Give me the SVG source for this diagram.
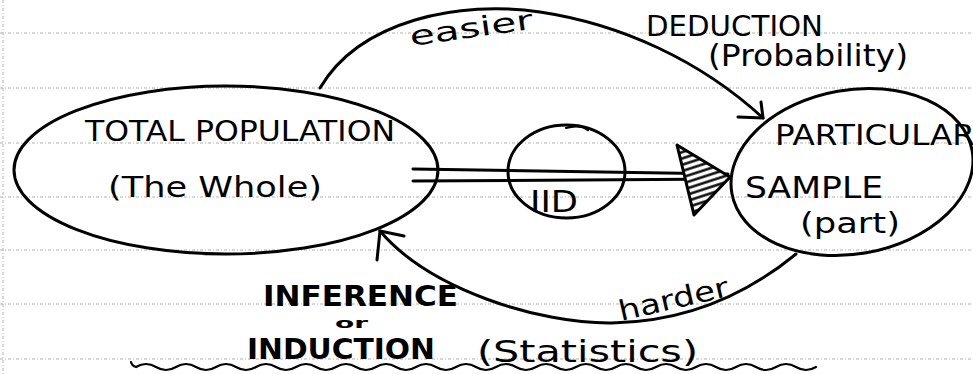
<svg xmlns="http://www.w3.org/2000/svg" width="973" height="374" viewBox="0 0 973 374">
  <defs>
    <style>
      .paper { stroke: #b0b0b0; stroke-width: 1; stroke-dasharray: 3 2 1 2; fill: none; }
      .ink { stroke: #000; stroke-width: 3; fill: none; stroke-linecap: round; stroke-linejoin: round; }
      .thin { stroke: #000; stroke-width: 2.2; fill: none; stroke-linecap: round; }
      .t { font-family: "DejaVu Sans", "Liberation Sans", sans-serif; fill: #000; }
      .caps { font-size: 28px; }
      .bold { font-weight: bold; }
    </style>
    <pattern id="hatch" patternUnits="userSpaceOnUse" width="6" height="6" patternTransform="rotate(-18)">
      <rect width="6" height="6" fill="#fff"/>
      <line x1="0" y1="1.5" x2="6" y2="1.5" stroke="#000" stroke-width="2.4"/>
    </pattern>
  </defs>
  <rect width="973" height="374" fill="#fff"/>
  <g id="paper">
    <line class="paper" x1="0" y1="33" x2="973" y2="33"/>
    <line class="paper" x1="0" y1="88" x2="973" y2="88"/>
    <line class="paper" x1="0" y1="143" x2="973" y2="143"/>
    <line class="paper" x1="0" y1="197" x2="973" y2="197"/>
    <line class="paper" x1="0" y1="250" x2="973" y2="250"/>
    <line class="paper" x1="0" y1="304" x2="973" y2="304"/>
    <line class="paper" x1="0" y1="359" x2="973" y2="359"/>
    <line class="paper" x1="3" y1="0" x2="3" y2="374" stroke-width="2"/>
  </g>

  <g id="node-population">
    <ellipse class="ink" cx="226" cy="170" rx="212" ry="84"/>
    <text class="t caps" x="85" y="141" textLength="310" lengthAdjust="spacingAndGlyphs">TOTAL POPULATION</text>
    <text class="t" x="108" y="197" font-size="28" textLength="214" lengthAdjust="spacingAndGlyphs">(The Whole)</text>
  </g>

  <g id="node-sample">
    <ellipse class="ink" cx="852" cy="172" rx="122" ry="82" transform="rotate(-10 852 172)"/>
    <text class="t caps" x="775" y="145" textLength="200" lengthAdjust="spacingAndGlyphs">PARTICULAR</text>
    <text class="t" x="745" y="198" font-size="30" textLength="138" lengthAdjust="spacingAndGlyphs">SAMPLE</text>
    <text class="t" x="800" y="233" font-size="28" textLength="100" lengthAdjust="spacingAndGlyphs">(part)</text>
  </g>

  <g id="node-iid">
    <ellipse class="ink" cx="566.5" cy="171.5" rx="58.5" ry="46.5"/>
    <path class="thin" d="M566,128 Q580,124 588,130"/>
    <text class="t" x="530" y="212" font-size="30" textLength="48" lengthAdjust="spacingAndGlyphs">IID</text>
  </g>

  <g id="connectors">
    <!-- deduction: population to sample -->
    <path class="ink" d="M320,88 C360,20 460,0 540,12 C620,24 700,60 763,118"/>
    <path class="ink" d="M761,102 L763,118 L738,117"/>
    <!-- inference: sample to population -->
    <path class="ink" d="M796,254 C740,300 680,322 612,323 C540,324 430,290 380,231"/>
    <path class="ink" d="M404,236 L380,231 L377,260"/>
    <!-- iid double arrow -->
    <line class="ink" x1="413" y1="169" x2="728" y2="174" stroke-width="2.6"/>
    <line class="ink" x1="413" y1="181" x2="728" y2="179" stroke-width="2.6"/>
    <polygon points="677,145 730,177 694,215" fill="url(#hatch)" stroke="#000" stroke-width="3" stroke-linejoin="round"/>
  </g>

  <g id="labels">
    <text class="t" x="411" y="46" font-size="27" textLength="124" lengthAdjust="spacingAndGlyphs" transform="rotate(-8 411 46)">easier</text>
    <text class="t" x="646" y="36" font-size="29" textLength="177" lengthAdjust="spacingAndGlyphs">DEDUCTION</text>
    <text class="t" x="708" y="66" font-size="30" textLength="200" lengthAdjust="spacingAndGlyphs">(Probability)</text>
    <text class="t" x="621" y="321" font-size="28" textLength="112" lengthAdjust="spacingAndGlyphs" transform="rotate(-13 621 321)">harder</text>
    <text class="t bold" x="263" y="306" font-size="28" textLength="195" lengthAdjust="spacingAndGlyphs">INFERENCE</text>
    <text class="t bold" x="335" y="328" font-size="14" textLength="33" lengthAdjust="spacingAndGlyphs">or</text>
    <text class="t bold" x="247" y="359" font-size="28" textLength="188" lengthAdjust="spacingAndGlyphs">INDUCTION</text>
    <text class="t" x="477" y="362" font-size="30" textLength="221" lengthAdjust="spacingAndGlyphs">(Statistics)</text>
    <path class="thin" d="M131,362 Q132,366 136,367 q10,-6 20,0 t20,0 t20,0 t20,0 t20,0 t20,0 t20,0 t20,0 t20,0 t20,0 t20,0 t20,0 t20,0 t20,0 t20,0 t20,0 t20,0 t20,0 t20,0 t20,0 t20,0 t20,0 t20,0 t20,0 t20,0 t20,0 t20,0 t20,0 t20,0 t20,0 t20,0 t20,0 t20,0 t20,0"/>
  </g>
</svg>
